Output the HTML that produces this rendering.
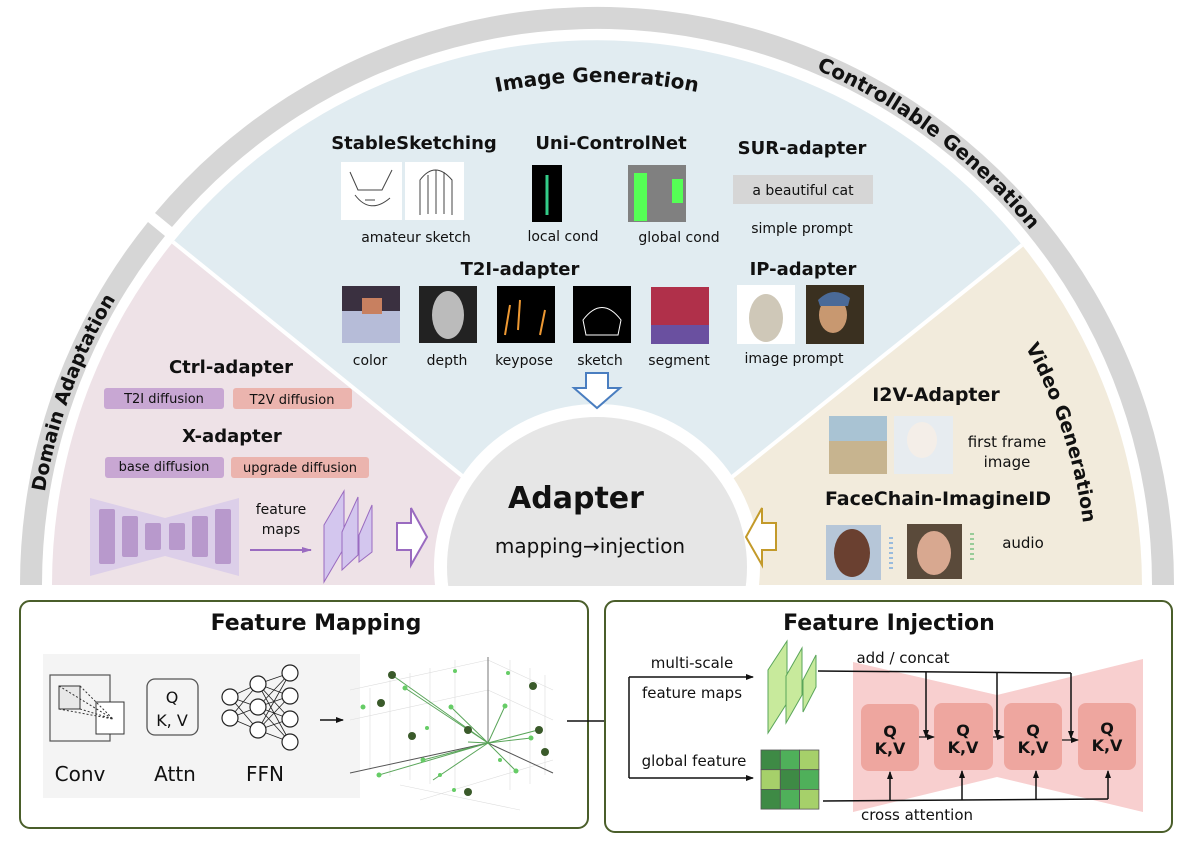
<!DOCTYPE html>
<html><head><meta charset="utf-8"><style>
html,body{margin:0;padding:0;background:#fff}
svg{display:block}
text{font-family:"DejaVu Sans","Liberation Sans",sans-serif;fill:#111}
.b{font-weight:bold}
</style></head><body>
<svg width="1192" height="846" viewBox="0 0 1192 846" xmlns="http://www.w3.org/2000/svg">
<defs>
<path id="pDA" d="M37,585 A560,560 0 0 1 1157,585"/>
<path id="pIG" d="M94,585 A503,503 0 0 1 1100,585"/>
<path id="pVG" d="M107,585 A490,490 0 0 1 1087,585"/>
<marker id="ah" markerWidth="8" markerHeight="8" refX="7" refY="4" orient="auto" markerUnits="userSpaceOnUse"><path d="M0,1 L8,4 L0,7 z" fill="#111"/></marker>
<marker id="ahp" markerWidth="10" markerHeight="8" refX="9" refY="4" orient="auto" markerUnits="userSpaceOnUse"><path d="M0,1 L10,4 L0,7 z" fill="#9a6bc0"/></marker>
</defs>
<path d="M20,585 A577,577 0 0 1 148,222 L165,236 A555,555 0 0 0 42,585 Z" fill="#d6d6d6"/>
<path d="M155,213 A577,577 0 0 1 1174,585 L1152,585 A555,555 0 0 0 172,227 Z" fill="#d6d6d6"/>
<path d="M597,585 L52,585 A545,545 0 0 1 173,242 Z" fill="#eee2e7"/>
<path d="M597,585 L173,242 A545,545 0 0 1 1022,245 Z" fill="#e1ecf1"/>
<path d="M597,585 L1022,245 A545,545 0 0 1 1142,585 Z" fill="#f2ebdc"/>
<line x1="597" y1="585" x2="173" y2="242" stroke="#fff" stroke-width="4"/>
<line x1="597" y1="585" x2="1022" y2="245" stroke="#fff" stroke-width="4"/>
<circle cx="597" cy="567" r="163" fill="#fff"/>
<circle cx="597" cy="567" r="150" fill="#e6e6e6"/>
<rect x="0" y="586" width="1192" height="260" fill="#fff"/>
<text x="576" y="508" class="b" font-size="30" text-anchor="middle">Adapter</text>
<text x="590" y="553" font-size="20" text-anchor="middle">mapping→injection</text>
<text class="b" font-size="19"><textPath href="#pDA" startOffset="197" text-anchor="middle">Domain Adaptation</textPath></text>
<text class="b" font-size="20"><textPath href="#pDA" startOffset="1240" text-anchor="middle">Controllable Generation</textPath></text>
<text class="b" font-size="20"><textPath href="#pIG" startOffset="790" text-anchor="middle">Image Generation</textPath></text>
<text class="b" font-size="19"><textPath href="#pVG" startOffset="1384" text-anchor="middle">Video Generation</textPath></text>

<text x="414" y="149" class="b" font-size="18" text-anchor="middle">StableSketching</text>
<rect x="341" y="162" width="61" height="58" fill="#fff"/>
<rect x="405" y="162" width="59" height="58" fill="#fff"/>
<path d="M350,172 L358,190 L382,190 L392,170 M355,195 Q370,215 390,198 M365,200 L375,200 M420,215 L420,180 Q435,160 452,180 L452,215 M428,175 L428,214 M436,170 L436,214 M444,172 L444,214" stroke="#444" fill="none" stroke-width="1"/>
<text x="416" y="242" font-size="14" text-anchor="middle">amateur sketch</text>
<text x="611" y="149" class="b" font-size="18" text-anchor="middle">Uni-ControlNet</text>
<rect x="532" y="165" width="30" height="57" fill="#000"/>
<line x1="547" y1="175" x2="547" y2="215" stroke="#3c8" stroke-width="3"/>
<rect x="628" y="165" width="58" height="57" fill="#808080"/>
<rect x="634" y="173" width="13" height="48" fill="#5f5"/>
<rect x="672" y="179" width="11" height="24" fill="#5f5"/>
<text x="563" y="241" font-size="14" text-anchor="middle">local cond</text>
<text x="679" y="242" font-size="14" text-anchor="middle">global cond</text>
<text x="802" y="154" class="b" font-size="18" text-anchor="middle">SUR-adapter</text>
<rect x="733" y="175" width="140" height="29" fill="#d6d6d6"/>
<text x="803" y="195" font-size="14" text-anchor="middle">a beautiful cat</text>
<text x="802" y="233" font-size="14" text-anchor="middle">simple prompt</text>
<text x="520" y="275" class="b" font-size="18" text-anchor="middle">T2I-adapter</text>
<rect x="342" y="286" width="58" height="57" fill="#b6bcd8"/>
<rect x="342" y="286" width="58" height="25" fill="#3a3040"/>
<rect x="362" y="298" width="20" height="16" fill="#c88060"/>
<rect x="419" y="286" width="58" height="57" fill="#222"/>
<ellipse cx="448" cy="315" rx="16" ry="24" fill="#bbb"/>
<rect x="497" y="286" width="58" height="57" fill="#000"/>
<path d="M505,335 L510,305 M518,330 L520,300 M540,335 L545,310" stroke="#e93" stroke-width="2"/>
<rect x="573" y="286" width="58" height="57" fill="#000"/>
<path d="M583,320 Q602,295 621,320 L618,335 L586,335 Z" stroke="#fff" fill="none"/>
<rect x="651" y="287" width="58" height="57" fill="#b0304a"/>
<rect x="651" y="325" width="58" height="19" fill="#6a50a0"/>
<text x="370" y="365" font-size="14" text-anchor="middle">color</text>
<text x="447" y="365" font-size="14" text-anchor="middle">depth</text>
<text x="524" y="365" font-size="14" text-anchor="middle">keypose</text>
<text x="600" y="365" font-size="14" text-anchor="middle">sketch</text>
<text x="679" y="365" font-size="14" text-anchor="middle">segment</text>
<text x="803" y="275" class="b" font-size="18" text-anchor="middle">IP-adapter</text>
<rect x="737" y="285" width="58" height="59" fill="#fff"/>
<ellipse cx="766" cy="318" rx="17" ry="24" fill="#cfc8b8"/>
<rect x="806" y="285" width="58" height="59" fill="#3a3020"/>
<ellipse cx="833" cy="315" rx="14" ry="18" fill="#c89870"/>
<path d="M818,300 Q833,285 850,298 L848,306 L820,306 Z" fill="#4a6a98"/>
<text x="794" y="363" font-size="14" text-anchor="middle">image prompt</text>
<path d="M586,373 L608,373 L608,388 L620,388 L597,408 L574,388 L586,388 Z" fill="#fff" stroke="#4a7ec0" stroke-width="2"/>

<text x="231" y="373" class="b" font-size="18" text-anchor="middle">Ctrl-adapter</text>
<rect x="104" y="388" width="120" height="21" rx="3" fill="#c8a7d3"/>
<text x="164" y="403" font-size="13" text-anchor="middle">T2I diffusion</text>
<rect x="233" y="388" width="119" height="21" rx="3" fill="#ebb4ae"/>
<text x="292" y="404" font-size="13" text-anchor="middle">T2V diffusion</text>
<text x="232" y="442" class="b" font-size="18" text-anchor="middle">X-adapter</text>
<rect x="105" y="457" width="119" height="21" rx="3" fill="#c8a7d3"/>
<text x="164" y="471" font-size="13" text-anchor="middle">base diffusion</text>
<rect x="231" y="457" width="138" height="21" rx="3" fill="#ebb4ae"/>
<text x="300" y="472" font-size="13" text-anchor="middle">upgrade diffusion</text>
<path d="M90,498 L165,518 L239,498 L239,576 L165,556 L90,576 Z" fill="#dccfe9"/>
<rect x="99" y="509" width="16" height="55" rx="2" fill="#b899cc"/>
<rect x="122" y="516" width="16" height="41" rx="2" fill="#b899cc"/>
<rect x="145" y="523" width="16" height="27" rx="2" fill="#b899cc"/>
<rect x="169" y="523" width="16" height="27" rx="2" fill="#b899cc"/>
<rect x="192" y="516" width="16" height="41" rx="2" fill="#b899cc"/>
<rect x="215" y="509" width="16" height="55" rx="2" fill="#b899cc"/>
<text x="281" y="514" font-size="14" text-anchor="middle">feature</text>
<text x="281" y="534" font-size="14" text-anchor="middle">maps</text>
<line x1="250" y1="550" x2="311" y2="550" stroke="#9a6bc0" stroke-width="2" marker-end="url(#ahp)"/>
<path d="M324,525 L344,491 L344,548 L324,582 Z" fill="#d3c6ee" stroke="#9a6bc0"/>
<path d="M342,532 L358,497 L358,555 L342,570 Z" fill="#d3c6ee" stroke="#9a6bc0"/>
<path d="M359,535 L372,505 L372,552 L359,562 Z" fill="#d3c6ee" stroke="#9a6bc0"/>
<path d="M397,523 L411,523 L411,508 L427,537 L411,565 L411,550 L397,550 Z" fill="#fff" stroke="#9a6bc0" stroke-width="2"/>

<text x="936" y="401" class="b" font-size="19" text-anchor="middle">I2V-Adapter</text>
<rect x="829" y="416" width="58" height="58" fill="#c7b48f"/>
<rect x="829" y="416" width="58" height="25" fill="#a9c3d3"/>
<rect x="894" y="416" width="59" height="58" fill="#e7ecf0"/>
<ellipse cx="922" cy="440" rx="15" ry="18" fill="#f4eee8"/>
<text x="1007" y="447" font-size="15" text-anchor="middle">first frame</text>
<text x="1007" y="467" font-size="15" text-anchor="middle">image</text>
<text x="938" y="505" class="b" font-size="19" text-anchor="middle">FaceChain-ImagineID</text>
<rect x="826" y="525" width="55" height="55" fill="#b6c6d8"/>
<ellipse cx="852" cy="553" rx="18" ry="24" fill="#6a4030"/>
<rect x="907" y="524" width="55" height="55" fill="#5a4a3a"/>
<ellipse cx="934" cy="553" rx="17" ry="22" fill="#d8a890"/>
<line x1="891" y1="537" x2="891" y2="570" stroke="#9bd" stroke-width="4" stroke-dasharray="2,3"/>
<line x1="972" y1="533" x2="972" y2="560" stroke="#9c9" stroke-width="4" stroke-dasharray="2,3"/>
<text x="1023" y="548" font-size="15" text-anchor="middle">audio</text>
<path d="M776,523 L762,523 L762,508 L746,537 L762,565 L762,550 L776,550 Z" fill="#fff" stroke="#c39a2a" stroke-width="2"/>

<rect x="20" y="601" width="568" height="227" rx="10" fill="#fff" stroke="#4a5e2a" stroke-width="2"/>
<text x="316" y="630" class="b" font-size="22" text-anchor="middle">Feature Mapping</text>
<rect x="43" y="654" width="317" height="144" fill="#f4f4f4"/>
<rect x="50" y="675" width="60" height="66" fill="none" stroke="#555" stroke-width="1.2"/>
<rect x="59" y="686" width="21" height="23" fill="#e8e8e8" stroke="#333"/>
<rect x="96" y="702" width="28" height="32" fill="#fff" stroke="#333"/>
<path d="M59,686 L113,719 M80,686 L113,719 M59,709 L113,719 M80,709 L113,719" stroke="#333" stroke-dasharray="2,2" fill="none"/>
<text x="80" y="781" font-size="20" text-anchor="middle">Conv</text>
<rect x="147" y="679" width="51" height="56" rx="8" fill="none" stroke="#555" stroke-width="1.3"/>
<text x="172" y="703" font-size="16" text-anchor="middle">Q</text>
<text x="172" y="726" font-size="16" text-anchor="middle">K, V</text>
<text x="175" y="781" font-size="20" text-anchor="middle">Attn</text>
<g stroke="#222" stroke-width="0.8" fill="none">
<path d="M230,697 L258,684 M230,697 L258,707 M230,697 L258,730 M230,718 L258,684 M230,718 L258,707 M230,718 L258,730 M258,684 L290,673 M258,684 L290,696 M258,684 L290,719 M258,684 L290,742 M258,707 L290,673 M258,707 L290,696 M258,707 L290,719 M258,707 L290,742 M258,730 L290,673 M258,730 L290,696 M258,730 L290,719 M258,730 L290,742"/>
</g>
<g fill="#fff" stroke="#222" stroke-width="1.2">
<circle cx="230" cy="697" r="8"/><circle cx="230" cy="718" r="8"/>
<circle cx="258" cy="684" r="8"/><circle cx="258" cy="707" r="8"/><circle cx="258" cy="730" r="8"/>
<circle cx="290" cy="673" r="8"/><circle cx="290" cy="696" r="8"/><circle cx="290" cy="719" r="8"/><circle cx="290" cy="742" r="8"/>
</g>
<text x="265" y="781" font-size="20" text-anchor="middle">FFN</text>
<line x1="320" y1="720" x2="343" y2="720" stroke="#111" stroke-width="1.5" marker-end="url(#ah)"/>
<g stroke="#ddd" stroke-width="0.6">
<line x1="370" y1="688" x2="370" y2="770"/><line x1="390" y1="680" x2="390" y2="776"/><line x1="410" y1="673" x2="410" y2="780"/><line x1="430" y1="668" x2="430" y2="784"/><line x1="455" y1="660" x2="455" y2="790"/>
<line x1="510" y1="660" x2="510" y2="790"/><line x1="530" y1="668" x2="530" y2="784"/><line x1="545" y1="675" x2="545" y2="775"/>
<line x1="350" y1="690" x2="488" y2="660"/><line x1="350" y1="720" x2="488" y2="690"/><line x1="488" y1="660" x2="553" y2="690"/><line x1="488" y1="690" x2="553" y2="720"/>
<line x1="420" y1="800" x2="553" y2="760"/><line x1="400" y1="785" x2="520" y2="810"/>
</g>
<line x1="488" y1="657" x2="488" y2="743" stroke="#777"/>
<line x1="488" y1="743" x2="350" y2="773" stroke="#555"/>
<line x1="488" y1="743" x2="553" y2="773" stroke="#555"/>
<g stroke="#5aa55a" stroke-width="1">
<line x1="488" y1="743" x2="392" y2="675"/><line x1="488" y1="743" x2="405" y2="688"/><line x1="488" y1="743" x2="451" y2="707"/>
<line x1="488" y1="743" x2="538" y2="730"/><line x1="488" y1="743" x2="468" y2="742"/><line x1="488" y1="743" x2="531" y2="738"/>
<line x1="488" y1="743" x2="379" y2="775"/><line x1="488" y1="743" x2="433" y2="780"/><line x1="488" y1="743" x2="516" y2="771"/>
<line x1="488" y1="743" x2="505" y2="706"/><line x1="488" y1="743" x2="423" y2="760"/>
</g>
<g fill="#3a5a2a"><circle cx="392" cy="675" r="4"/><circle cx="381" cy="703" r="4"/><circle cx="412" cy="736" r="4"/><circle cx="468" cy="730" r="4"/><circle cx="539" cy="730" r="4"/><circle cx="545" cy="752" r="4"/><circle cx="468" cy="792" r="4"/><circle cx="533" cy="686" r="4"/></g>
<g fill="#6c6"><circle cx="405" cy="688" r="2.5"/><circle cx="363" cy="707" r="2.5"/><circle cx="451" cy="707" r="2.5"/><circle cx="505" cy="706" r="2.5"/><circle cx="531" cy="738" r="2.5"/><circle cx="379" cy="775" r="2.5"/><circle cx="423" cy="760" r="2.5"/><circle cx="516" cy="771" r="2.5"/><circle cx="455" cy="671" r="2"/><circle cx="508" cy="673" r="2"/><circle cx="454" cy="790" r="2"/><circle cx="427" cy="728" r="2"/><circle cx="500" cy="760" r="2"/><circle cx="440" cy="775" r="2"/></g>
<line x1="567" y1="721" x2="629" y2="721" stroke="#111" stroke-width="1.5"/>

<rect x="605" y="601" width="567" height="231" rx="10" fill="#fff" stroke="#4a5e2a" stroke-width="2"/>
<text x="889" y="630" class="b" font-size="22" text-anchor="middle">Feature Injection</text>
<path d="M629,677 L629,778" stroke="#111" stroke-width="1.5" fill="none"/>
<line x1="629" y1="677" x2="753" y2="677" stroke="#111" stroke-width="1.5" marker-end="url(#ah)"/>
<line x1="629" y1="778" x2="753" y2="778" stroke="#111" stroke-width="1.5" marker-end="url(#ah)"/>
<text x="692" y="668" font-size="15" text-anchor="middle">multi-scale</text>
<text x="692" y="698" font-size="15" text-anchor="middle">feature maps</text>
<text x="694" y="766" font-size="15" text-anchor="middle">global feature</text>
<path d="M768,670 L787,641 L787,703 L768,733 Z" fill="#c8ea9c" stroke="#5aa55a"/>
<path d="M786,676 L802,648 L802,695 L786,723 Z" fill="#c8ea9c" stroke="#5aa55a"/>
<path d="M803,680 L816,655 L816,687 L803,712 Z" fill="#c8ea9c" stroke="#5aa55a"/>
<g stroke="#555" stroke-width="0.8">
<rect x="761" y="750" width="19.3" height="19.7" fill="#3e8a45"/><rect x="780.3" y="750" width="19.3" height="19.7" fill="#4fb05a"/><rect x="799.6" y="750" width="19.3" height="19.7" fill="#a6d06a"/>
<rect x="761" y="769.7" width="19.3" height="19.7" fill="#a6d06a"/><rect x="780.3" y="769.7" width="19.3" height="19.7" fill="#3e8a45"/><rect x="799.6" y="769.7" width="19.3" height="19.7" fill="#4fb05a"/>
<rect x="761" y="789.4" width="19.3" height="19.7" fill="#3e8a45"/><rect x="780.3" y="789.4" width="19.3" height="19.7" fill="#4fb05a"/><rect x="799.6" y="789.4" width="19.3" height="19.7" fill="#a6d06a"/>
</g>
<path d="M853,662 L997,695 L1143,659 L1143,812 L997,777 L853,812 Z" fill="#f8cfcf"/>
<g fill="#eea69f">
<rect x="861" y="704" width="58" height="67" rx="8"/><rect x="934" y="703" width="59" height="67" rx="8"/>
<rect x="1004" y="703" width="58" height="67" rx="8"/><rect x="1078" y="703" width="58" height="67" rx="8"/>
</g>
<g font-size="16" text-anchor="middle">
<text x="890" y="737" class="b">Q</text><text x="890" y="754" class="b">K,V</text>
<text x="963" y="736" class="b">Q</text><text x="963" y="753" class="b">K,V</text>
<text x="1033" y="736" class="b">Q</text><text x="1033" y="753" class="b">K,V</text>
<text x="1107" y="734" class="b">Q</text><text x="1107" y="751" class="b">K,V</text>
</g>
<text x="903" y="663" font-size="15" text-anchor="middle">add / concat</text>
<text x="917" y="820" font-size="15" text-anchor="middle">cross attention</text>
<path d="M818,671 L1071,673" stroke="#111" stroke-width="1.5" fill="none"/>
<line x1="926" y1="672" x2="926" y2="737" stroke="#111" stroke-width="1.5" marker-end="url(#ah)"/>
<line x1="997" y1="673" x2="997" y2="737" stroke="#111" stroke-width="1.5" marker-end="url(#ah)"/>
<line x1="1071" y1="673" x2="1071" y2="738" stroke="#111" stroke-width="1.5" marker-end="url(#ah)"/>
<line x1="919" y1="737" x2="934" y2="737" stroke="#111" stroke-width="1.2" marker-end="url(#ah)"/>
<line x1="993" y1="737" x2="1004" y2="737" stroke="#111" stroke-width="1.2" marker-end="url(#ah)"/>
<line x1="1062" y1="740" x2="1078" y2="740" stroke="#111" stroke-width="1.2" marker-end="url(#ah)"/>
<path d="M823,801 L1108,799" stroke="#111" stroke-width="1.5" fill="none"/>
<line x1="890" y1="801" x2="890" y2="772" stroke="#111" stroke-width="1.5" marker-end="url(#ah)"/>
<line x1="962" y1="800" x2="962" y2="771" stroke="#111" stroke-width="1.5" marker-end="url(#ah)"/>
<line x1="1036" y1="800" x2="1036" y2="771" stroke="#111" stroke-width="1.5" marker-end="url(#ah)"/>
<line x1="1108" y1="799" x2="1108" y2="771" stroke="#111" stroke-width="1.5" marker-end="url(#ah)"/>
</svg>
</body></html>
